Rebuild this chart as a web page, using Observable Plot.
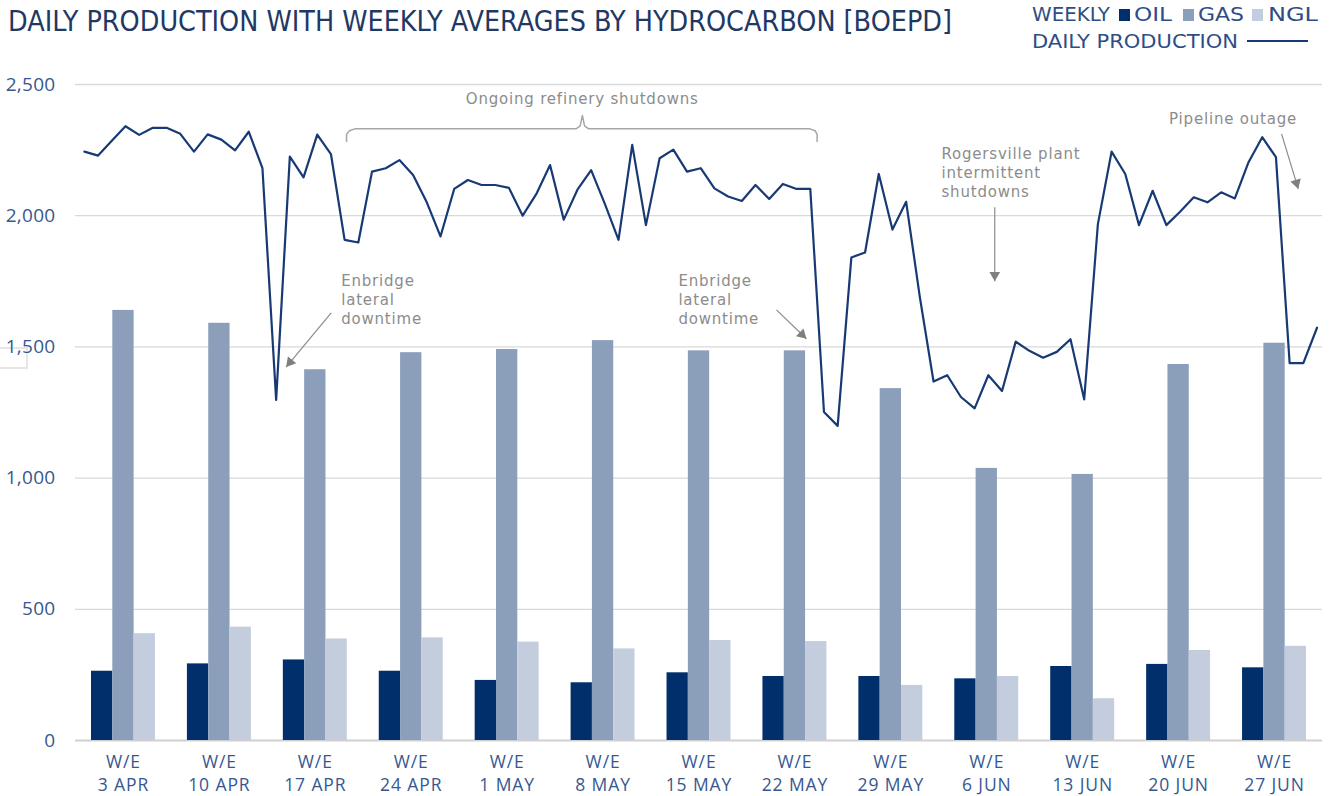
<!DOCTYPE html>
<html>
<head>
<meta charset="utf-8">
<script src="https://cdn.jsdelivr.net/npm/d3@7"></script>
<script src="https://cdn.jsdelivr.net/npm/@observablehq/plot@0.6"></script>
<style>
  body { margin: 0; background: #fff; }
  #wrap { position: relative; width: 1333px; height: 796px; overflow: hidden; background: #fff; }
  .layer { position: absolute; left: 0; top: 70px; }
  .narrow { font-family: "Liberation Sans Narrow", "DejaVu Sans Condensed", "Liberation Sans", sans-serif; white-space: nowrap; position: absolute; line-height: 1; transform-origin: 0 0; }
  #title { left: 8px; top: 7px; font-size: 29px; color: #1f3864; }
  .leg { font-size: 20px; color: #2f4d85; }
  .sw { position: absolute; width: 11px; height: 12px; }
  #artifact { position: absolute; left: 0; top: 347px; width: 26px; height: 18px; border: 2px solid #e6e6e6; border-left: none; }
</style>
</head>
<body>
<div id="wrap">
  <div id="title" class="narrow">DAILY PRODUCTION WITH WEEKLY AVERAGES BY HYDROCARBON [BOEPD]</div>
  <div id="legend"></div>
  <div id="artifact"></div>
</div>
<script>
// ---------- data ----------
const weeks = ["3 APR", "10 APR", "17 APR", "24 APR", "1 MAY", "8 MAY", "15 MAY", "22 MAY", "29 MAY", "6 JUN", "13 JUN", "20 JUN", "27 JUN"];
const types = ["OIL", "GAS", "NGL"];
const oil = [264, 292, 307, 264, 229, 220, 258, 244, 244, 235, 282, 290, 277];
const gas = [1639, 1590, 1413, 1478, 1490, 1524, 1485, 1485, 1341, 1037, 1014, 1433, 1514];
const ngl = [407, 432, 387, 391, 375, 349, 381, 377, 210, 244, 159, 343, 359];
const daily = [2244, 2229, 2286, 2341, 2308, 2335, 2335, 2312, 2244, 2310, 2290, 2249, 2320, 2181,
  1298, 2225, 2146, 2309, 2235, 1908, 1898, 2168, 2181, 2212, 2155, 2051, 1921, 2102, 2136, 2117,
  2117, 2106, 2000, 2083, 2193, 1985, 2099, 2174, 2045, 1908, 2270, 1964, 2219, 2252, 2168, 2181,
  2104, 2073, 2056, 2117, 2064, 2121, 2102, 2102, 1252, 1199, 1841, 1860, 2159, 1947, 2053, 1690,
  1368, 1392, 1309, 1266, 1392, 1332, 1520, 1485, 1459, 1481, 1529, 1300, 1968, 2244, 2159, 1964,
  2095, 1964, 2015, 2070, 2051, 2089, 2066, 2204, 2299, 2223, 1438, 1438, 1573];
const yTicks = [0, 500, 1000, 1500, 2000, 2500];
const notesMiddle = [{x: 36.35, y: 2467, text: "Ongoing refinery shutdowns"}];
const notesStart = [
  {x: 18.75, y: 1784, text: "Enbridge\nlateral\ndowntime"},
  {x: 43.37, y: 1784, text: "Enbridge\nlateral\ndowntime"},
  {x: 62.58, y: 2268, text: "Rogersville plant\nintermittent\nshutdowns"},
  {x: 79.2, y: 2401, text: "Pipeline outage"}
];
const arrows = [
  {x1: 18.02, y1: 1630, x2: 14.73, y2: 1423, angle: 219.6},
  {x1: 50.53, y1: 1641, x2: 52.72, y2: 1531, angle: 134},
  {x1: 66.47, y1: 2032, x2: 66.47, y2: 1750, angle: 180},
  {x1: 87.41, y1: 2312, x2: 88.63, y2: 2102, angle: 163.2}
];
const bracket = [
  [19.14, 2283], [19.14, 2310], [19.35, 2324], [19.75, 2331], [35.9, 2331], [36.2, 2342],
  [36.36, 2382], [36.52, 2342], [36.82, 2331], [52.98, 2331], [53.35, 2324], [53.5, 2310], [53.5, 2283]
];

// ---------- styles ----------
const colors = ["#002f6c", "#8c9fba", "#c3cddd"];
const lineColor = "#173a74";
const labelColor = "#36588f";
const noteColor = "#8c8c8c";
const axisFont = "'Open Sans', 'Noto Sans', sans-serif";
const noteFont = "'DejaVu Sans', 'Open Sans', sans-serif";
const common = {width: 1333, height: 726, marginLeft: 75, marginRight: 11, marginTop: 14, marginBottom: 56};

const wrap = document.getElementById("wrap");
function addLayer(svg) { svg.classList.add("layer"); wrap.appendChild(svg); }

// grid + y axis layer
addLayer(Plot.plot({
  ...common,
  style: {background: "transparent", fontSize: "19px", fontFamily: axisFont, color: labelColor, overflow: "visible", letterSpacing: "0.3px"},
  x: {domain: [0, 1], axis: null},
  y: {domain: [0, 2500], ticks: yTicks, tickFormat: d3.format(","), tickSize: 0, tickPadding: 20, label: null},
  marks: [
    Plot.ruleY(yTicks.filter(d => d > 0), {stroke: "#d9d9d9", strokeWidth: 1.3}),
    Plot.ruleY([0], {stroke: "#d0d0d0", strokeWidth: 2.2})
  ]
}));

// bars layer
const barData = weeks.flatMap((w, i) => [
  {week: w, type: "OIL", value: oil[i]},
  {week: w, type: "GAS", value: gas[i]},
  {week: w, type: "NGL", value: ngl[i]}
]);
addLayer(Plot.plot({
  ...common,
  style: {background: "transparent", fontFamily: axisFont, overflow: "visible", letterSpacing: "0.9px"},
  fx: {domain: weeks, paddingInner: 1/3, paddingOuter: 1/6, round: false, axis: null, label: null},
  x: {domain: types, padding: 0, round: false, axis: null},
  y: {domain: [0, 2500], axis: null},
  color: {domain: types, range: colors},
  marks: [
    Plot.barY(barData, {fx: "week", x: "type", y: "value", fill: "type", inset: 0}),
    Plot.text(weeks, {fx: d => d, text: d => "W/E\n" + d, frameAnchor: "bottom", lineAnchor: "top",
      dy: 10, lineHeight: 1.37, fontSize: 17.5, fill: labelColor})
  ]
}));

// daily line + annotations layer
addLayer(Plot.plot({
  ...common,
  style: {background: "transparent", fontFamily: noteFont, overflow: "visible", letterSpacing: "0.8px"},
  x: {domain: [-0.65, 90.4], axis: null},
  y: {domain: [0, 2500], axis: null},
  marks: [
    Plot.line(bracket, {x: d => d[0], y: d => d[1], stroke: "#a6a6a6", strokeWidth: 1.5}),
    Plot.lineY(daily, {x: (d, i) => i, y: d => d, stroke: lineColor, strokeWidth: 2.2}),
    Plot.link(arrows, {x1: "x1", y1: "y1", x2: "x2", y2: "y2", stroke: "#8c8c8c", strokeWidth: 1.2}),
    ...arrows.map(a => Plot.dot([a], {x: "x2", y: "y2", symbol: "triangle", r: 4, fill: "#7f7f7f", stroke: null,
      rotate: a.angle, dx: -6.2 * Math.sin(a.angle * Math.PI / 180), dy: 6.2 * Math.cos(a.angle * Math.PI / 180)})),
    Plot.text(notesMiddle, {x: "x", y: "y", text: "text", textAnchor: "middle", lineAnchor: "top", fontSize: 15, fill: noteColor}),
    Plot.text(notesStart, {x: "x", y: "y", text: "text", textAnchor: "start", lineAnchor: "top", fontSize: 15, lineHeight: 1.267, fill: noteColor})
  ]
}));

// legend
const legend = document.getElementById("legend");
function span(text, left, top, width) {
  const s = document.createElement("div");
  s.className = "narrow leg"; s.textContent = text;
  s.style.left = left + "px"; s.style.top = top + "px";
  legend.appendChild(s);
  const w = s.getBoundingClientRect().width;
  s.style.transform = `scaleX(${width / w})`;
  return s;
}
function swatch(color, left, top, w, h) {
  const s = document.createElement("div");
  s.className = "sw"; s.style.background = color;
  s.style.left = left + "px"; s.style.top = top + "px";
  if (w) s.style.width = w + "px"; if (h) s.style.height = h + "px";
  legend.appendChild(s);
}
span("WEEKLY", 1032, 4, 78);
swatch(colors[0], 1119, 9); span("OIL", 1134, 4, 38);
swatch(colors[1], 1183, 9); span("GAS", 1198, 4, 46);
swatch(colors[2], 1252, 9); span("NGL", 1268, 4, 50);
span("DAILY PRODUCTION", 1032, 31, 206);
swatch(lineColor, 1247, 40, 61, 2);

// fit title width to reference span
const t = document.getElementById("title");
const tw = t.getBoundingClientRect().width;
t.style.transform = `scaleX(${944 / tw})`;
</script>
</body>
</html>
